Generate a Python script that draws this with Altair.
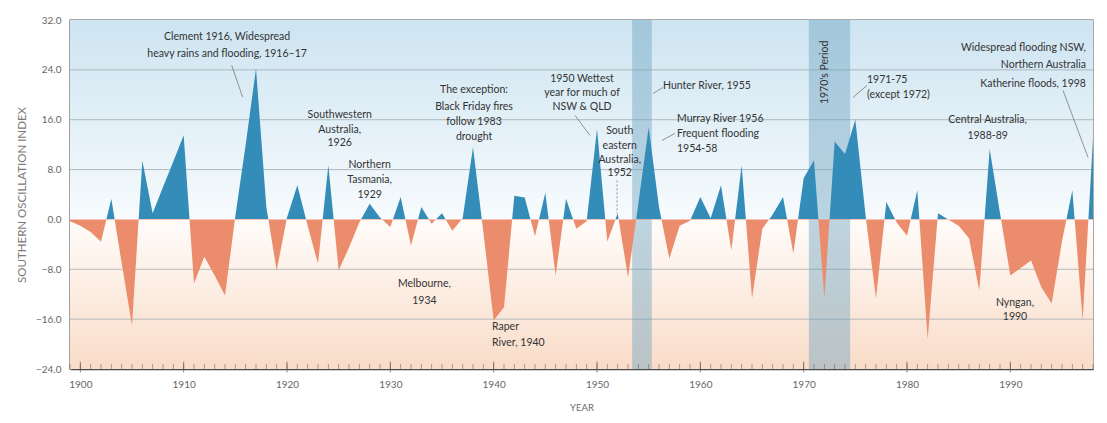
import altair as alt
import pandas as pd

# ---------------- data ----------------
years = list(range(1899, 1999))
soi = [
    -0.3, -1.0, -2.0, -3.6, 3.3, -7.0, -17.0, 9.4, 1.0, 5.2,
    9.3, 13.5, -10.3, -6.0, -9.0, -12.2, 0.5, 12.0, 24.2, 2.0,
    -8.2, 0.3, 5.5, -1.0, -7.1, 8.7, -8.2, -4.5, -0.5, 2.5,
    0.3, -1.2, 3.6, -4.2, 2.0, -0.7, 1.0, -1.8, 0.2, 11.6,
    -2.0, -16.2, -14.1, 3.8, 3.5, -2.7, 4.3, -9.0, 3.3, -1.5,
    -0.3, 14.5, -3.6, 1.0, -9.3, 2.5, 14.8, 2.0, -6.3, -1.0,
    -0.2, 3.6, 0.2, 5.5, -5.0, 8.7, -12.7, -1.5, 0.8, 3.6,
    -5.5, 6.6, 9.5, -12.7, 12.5, 10.5, 16.0, 0.5, -12.7, 2.8,
    -0.5, -2.6, 4.7, -19.2, 1.0, 0.0, -1.0, -3.0, -11.4, 11.3,
    1.0, -9.0, -7.8, -6.6, -10.9, -13.5, -3.5, 4.7, -16.2, 13.0,
]

y_ticks = [-24, -16, -8, 0, 8, 16, 24, 32]
grid_levels = [-16, -8, 8, 16, 24]
decades = list(range(1900, 2000, 10))

band_start = [1953.4, 1970.5]
band_end = [1955.3, 1974.5]

# annotation lines (year, SOI position)
center_text = [
    "Clement 1916, Widespread", "heavy rains and flooding, 1916\u201317",
    "Southwestern", "Australia,", "1926",
    "Northern", "Tasmania,", "1929",
    "The exception:", "Black Friday fires", "follow 1983", "drought",
    "1950 Wettest", "year for much of", "NSW & QLD",
    "South", "eastern", "Australia,", "1952",
    "Central Australia,", "1988-89",
    "Melbourne,", "1934",
    "Nyngan,", "1990",
]
center_x = [1914.2, 1914.2,
            1925.1, 1925.1, 1925.1,
            1928.0, 1928.0, 1928.0,
            1938.1, 1938.1, 1938.1, 1938.1,
            1948.55, 1948.55, 1948.55,
            1952.2, 1952.2, 1952.2, 1952.2,
            1987.8, 1987.8,
            1933.3, 1933.3,
            1990.45, 1990.45]
center_y = [29.2, 26.5,
            16.7, 14.3, 12.2,
            8.66, 6.26, 3.85,
            20.7, 18.1, 15.56, 13.16,
            22.46, 20.22, 17.97,
            14.12, 11.71, 9.47, 7.38,
            15.89, 13.32,
            -10.43, -13.16,
            -13.48, -15.73]

left_text = ["Hunter River, 1955",
             "Murray River 1956", "Frequent flooding", "1954-58",
             "1971-75", "(except 1972)",
             "Raper", "River, 1940"]
left_x = [1956.39, 1957.74, 1957.74, 1957.74, 1976.13, 1976.13, 1939.84, 1939.84]
left_y = [21.34, 16.05, 13.64, 11.23, 22.3, 19.9, -17.33, -19.9]

right_text = ["Widespread flooding NSW,", "Northern Australia", "Katherine floods, 1998"]
right_x = [1997.32, 1997.32, 1997.32]
right_y = [27.44, 24.71, 21.66]

period_text = ["1970's Period"]
period_x = [1972.07]
period_y = [23.59]

lead_x = [1914.65, 1947.87, 1955.42, 1956.29, 1974.77, 1995.10]
lead_y = [24.71, 16.69, 20.22, 12.68, 19.58, 20.70]
lead_x2 = [1915.71, 1949.32, 1956.39, 1957.55, 1976.13, 1997.52]
lead_y2 = [19.62, 13.48, 21.18, 13.80, 21.50, 9.95]

dash_x = [1951.94]
dash_y = [6.26]
dash_y2 = [0.96]

# ---------------- styling ----------------
W, H = 1023, 349
FONT = "Lato, Liberation Sans, sans-serif"
BLUE = "#348cb8"
ORANGE = "#eb8d6c"
TXT = "#333333"

x_scale = alt.Scale(domain=[1899, 1998], nice=False, zero=False)
y_scale = alt.Scale(domain=[-24, 32], nice=False, zero=False)

X_AX = alt.Axis(values=decades, format="d", title="YEAR", grid=False,
                ticks=False, domainColor="#4a4a4a", domainWidth=1.5,
                labelFontSize=10, labelColor="#666666", labelPadding=10,
                labelFont=FONT, titleFont=FONT, titleFontSize=9.5,
                titleFontWeight="normal", titleColor="#6a6a6a",
                titlePadding=13)
Y_AX = alt.Axis(values=y_ticks, format=".1f", title="SOUTHERN OSCILLATION INDEX",
                grid=False, ticks=False, domain=True, domainColor="#a0a0a0",
                domainWidth=2.5, labelFontSize=10, labelColor="#666666",
                labelPadding=9, labelFont=FONT, titleFont=FONT,
                titleFontSize=11.5, titleFontWeight="normal", titleColor="#7a7a7a",
                titlePadding=8)


def X(f):
    return alt.X(f, scale=x_scale, axis=X_AX)


def Y(f):
    return alt.Y(f, scale=y_scale, axis=Y_AX)


df = pd.DataFrame({"year": years, "soi": soi})
vmax, vmin = max(soi), min(soi)
frac = vmax / (vmax - vmin)

# background gradients
bg_top = alt.Chart(pd.DataFrame({"a": [y_ticks[-1]], "b": [0]})).mark_rect(
    fill=alt.Gradient(gradient="linear",
                      stops=[alt.GradientStop(color="#cde4f1", offset=0),
                             alt.GradientStop(color="#f7fbfd", offset=1)],
                      x1=0, x2=0, y1=0, y2=1)
).encode(x=alt.value(0), x2=alt.value(W), y=Y("a:Q"), y2="b:Q")

bg_bot = alt.Chart(pd.DataFrame({"a": [0], "b": [y_ticks[0]]})).mark_rect(
    fill=alt.Gradient(gradient="linear",
                      stops=[alt.GradientStop(color="#fffcfa", offset=0),
                             alt.GradientStop(color="#f9dcc8", offset=1)],
                      x1=0, x2=0, y1=0, y2=1)
).encode(x=alt.value(0), x2=alt.value(W), y=Y("a:Q"), y2="b:Q")

grid = alt.Chart(pd.DataFrame({"g": grid_levels})).mark_rule(
    color="#a2abb0", strokeWidth=0.8
).encode(y=Y("g:Q"))

bands = alt.Chart(pd.DataFrame({"s": band_start, "e": band_end})).mark_rect(
    color="#6fa3c0", opacity=0.45
).encode(x=X("s:Q"), x2="e:Q")

area = alt.Chart(df).mark_area(
    interpolate="linear",
    fill=alt.Gradient(gradient="linear",
                      stops=[alt.GradientStop(color=BLUE, offset=0),
                             alt.GradientStop(color=BLUE, offset=frac),
                             alt.GradientStop(color=ORANGE, offset=frac),
                             alt.GradientStop(color=ORANGE, offset=1)],
                      x1=0, x2=0, y1=0, y2=1),
).encode(x=X("year:Q"), y=Y("soi:Q"), y2=alt.datum(0))

leaders = alt.Chart(pd.DataFrame({"x": lead_x, "y": lead_y, "x2": lead_x2, "y2": lead_y2})).mark_rule(
    color="#7a7a7a", strokeWidth=0.8
).encode(x=X("x:Q"), x2="x2:Q", y=Y("y:Q"), y2="y2:Q")

dashed = alt.Chart(pd.DataFrame({"x": dash_x, "y": dash_y, "y2": dash_y2})).mark_rule(
    color="#7a7a7a", strokeWidth=0.8, strokeDash=[2, 2]
).encode(x=X("x:Q"), y=Y("y:Q"), y2="y2:Q")


def text_layer(texts, xs, ys, align, **kw):
    return alt.Chart(pd.DataFrame({"t": texts, "x": xs, "y": ys})).mark_text(
        align=align, baseline="middle", font=FONT, fontSize=10.5, color=TXT, **kw
    ).encode(x=X("x:Q"), y=Y("y:Q"), text="t:N")


t_center = text_layer(center_text, center_x, center_y, "center")
t_left = text_layer(left_text, left_x, left_y, "left")
t_right = text_layer(right_text, right_x, right_y, "right")
t_period = text_layer(period_text, period_x, period_y, "center", angle=270)

minor = alt.Chart(pd.DataFrame({"yr": years, "b": [y_ticks[0]] * len(years)})).mark_tick(
    orient="vertical", color="#666666", thickness=0.8, size=5
).encode(x=X("yr:Q"), y=Y("b:Q"), yOffset=alt.value(-2.5))

major = alt.Chart(pd.DataFrame({"d": decades, "b": [y_ticks[0]] * len(decades)})).mark_tick(
    orient="vertical", color="#555555", thickness=1, size=11
).encode(x=X("d:Q"), y=Y("b:Q"), yOffset=alt.value(-2))

chart = alt.layer(
    bg_top, bg_bot, grid, bands, area, leaders, dashed,
    t_center, t_left, t_right, t_period, minor, major
).properties(
    width=W, height=H,
    padding={"left": 62, "top": 12, "right": 6, "bottom": 46},
    autosize=alt.AutoSizeParams(type="none"),
    background="white",
).configure_view(stroke="#8d8d8d", strokeWidth=1.5)

chart.save("out.html", embed_options={"renderer": "svg", "actions": False})
